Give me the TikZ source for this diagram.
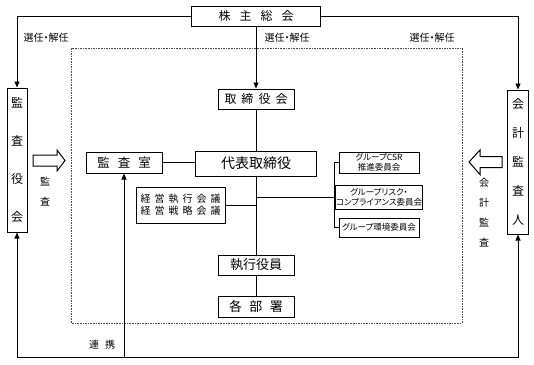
\documentclass[tikz,border=0pt]{standalone}
\usepackage{fontspec}
\usepackage{tikz}
\usetikzlibrary{arrows.meta,calc,positioning}
\newfontfamily\jpfont[RawFeature=+palt]{Noto Sans CJK JP}
\newcommand{\kgap}[1]{\hspace{#1}}
\tikzset{
  orgbox/.style    ={draw, line width=1pt, inner sep=0pt, align=center, font=\jpfont},
  link/.style      ={line width=0.9pt},
  hollowarrow/.style={draw, line width=1pt, fill=white, line join=miter},
  tag/.style       ={inner sep=0pt, align=center},
}

\begin{document}
\begin{tikzpicture}[
  x=1pt,y=-1pt,
  >={Triangle[length=6pt,width=5pt]},
  line cap=butt
]
\useasboundingbox (0,0) rectangle (534,364);

% --- Frame: group boundary -------------------------------------------------
\draw[black!70, line width=0.9pt, dash pattern=on 1.6pt off 1pt] (71.5,48) rectangle (462,323);

% --- Top: shareholders ----------------------------------------------------
\node[orgbox, minimum width=129pt, minimum height=20pt, font=\jpfont\fontsize{12}{14}\selectfont]
  (soukai) at (256,16) {株\kgap{9pt}主\kgap{9pt}総\kgap{9pt}会};

% --- Side boxes -----------------------------------------------------------
\node[orgbox, minimum width=20pt, minimum height=144pt, font=\jpfont\fontsize{12}{38}\selectfont]
  (kansayaku) at (17,160) {監\\査\\役\\会};
\node[orgbox, minimum width=21pt, minimum height=144pt, font=\jpfont\fontsize{12}{29}\selectfont]
  (kaikei) at (518,162) {会\\計\\監\\査\\人};

% --- Middle column --------------------------------------------------------
\node[orgbox, minimum width=76pt, minimum height=20pt, font=\jpfont\fontsize{12}{14}\selectfont]
  (torishimari) at (256,99) {取\kgap{5pt}締\kgap{5pt}役\kgap{5pt}会};
\node[orgbox, minimum width=121pt, minimum height=25pt, font=\jpfont\fontsize{14}{16}\selectfont]
  (daihyo) at (256,163.5) {代表取締役};
\node[orgbox, minimum width=76pt, minimum height=20pt, font=\jpfont\fontsize{13}{15}\selectfont]
  (shikko) at (256,265) {執行役員};
\node[orgbox, minimum width=76pt, minimum height=21pt, font=\jpfont\fontsize{13}{15}\selectfont]
  (kakubu) at (256,306.5) {各\kgap{7.5pt}部\kgap{7.5pt}署};

\node[orgbox, minimum width=76pt, minimum height=21pt, font=\jpfont\fontsize{12.5}{14}\selectfont]
  (kansashitsu) at (124,162.5) {監\kgap{8pt}査\kgap{8pt}室};
\node[orgbox, minimum width=89pt, minimum height=36pt, font=\jpfont\fontsize{10}{12}\selectfont]
  (keiei) at (180.5,205) {経\kgap{4pt}営\kgap{4pt}執\kgap{4pt}行\kgap{4pt}会\kgap{4pt}議\\
                          経\kgap{4pt}営\kgap{4pt}戦\kgap{4pt}略\kgap{4pt}会\kgap{4pt}議};

% --- Committees -----------------------------------------------------------
\node[orgbox, minimum width=80pt, minimum height=21pt, font=\jpfont\fontsize{8.5}{10}\selectfont]
  (csr) at (379,162.5) {グループCSR\\推進委員会};
\node[orgbox, minimum width=80pt, minimum height=24pt, font=\jpfont\fontsize{8.5}{10}\selectfont]
  (risk) at (379,197) {グループリスク・\\コンプライアンス委員会};
\node[orgbox, minimum width=80pt, minimum height=19pt, font=\jpfont\fontsize{8.5}{10}\selectfont]
  (env) at (379,227.5) {グループ環境委員会};

% --- Labels ---------------------------------------------------------------
\node[tag, font=\jpfont\fontsize{10}{12}\selectfont] (senninL) at (46,38) {選任・解任};
\node[tag, font=\jpfont\fontsize{10}{12}\selectfont] (senninC) at (287,38) {選任・解任};
\node[tag, font=\jpfont\fontsize{10}{12}\selectfont] (senninR) at (432,38) {選任・解任};
\node[tag, font=\jpfont\fontsize{10}{20}\selectfont] (kansaL) at (45,192) {監\\査};
\node[tag, font=\jpfont\fontsize{10}{20}\selectfont] (kansaR) at (484,213) {会\\計\\監\\査};
\node[tag, font=\jpfont\fontsize{10}{12}\selectfont] (renkei) at (102,345) {連\kgap{6pt}携};

% --- Hollow audit arrows --------------------------------------------------
\draw[hollowarrow] (33,155) -- (57,155) -- (57,150) -- (65,160.5) -- (57,171) -- (57,166) -- (33,166) -- cycle;
\draw[hollowarrow] (502,156.5) -- (480,156.5) -- (480,150) -- (469,162) -- (480,174.5) -- (480,167.5) -- (502,167.5) -- cycle;

% --- Connectors -----------------------------------------------------------
\draw[link,->] (soukai.west) -| (kansayaku.north);
\draw[link,->] (soukai.east) -| (kaikei.north);
\draw[link,->] (soukai.south) -- (torishimari.north);

\draw[link] (torishimari.south) -- (daihyo.north);
\draw[link] (daihyo.south) -- (shikko.north);
\draw[link] (shikko.south) -- (kakubu.north);

\draw[link] (kansashitsu.east) -- (kansashitsu.east -| daihyo.west);
\draw[link] (keiei.east) -- (keiei.east -| daihyo.south);
\draw[link] (risk.west -| daihyo.south) -- (risk.west);
\draw[link] (csr.west) -- ++(-4,0) |- (env.west);

% bottom link line
\coordinate (renkeiL) at (17,357);
\coordinate (renkeiR) at (518,357);
\draw[link,<->] (kansayaku.south) -- (renkeiL) -- (renkeiR) -- (kaikei.south);
\draw[link,->] (renkeiL -| kansashitsu.south) -- (kansashitsu.south);

\end{tikzpicture}
\end{document}
